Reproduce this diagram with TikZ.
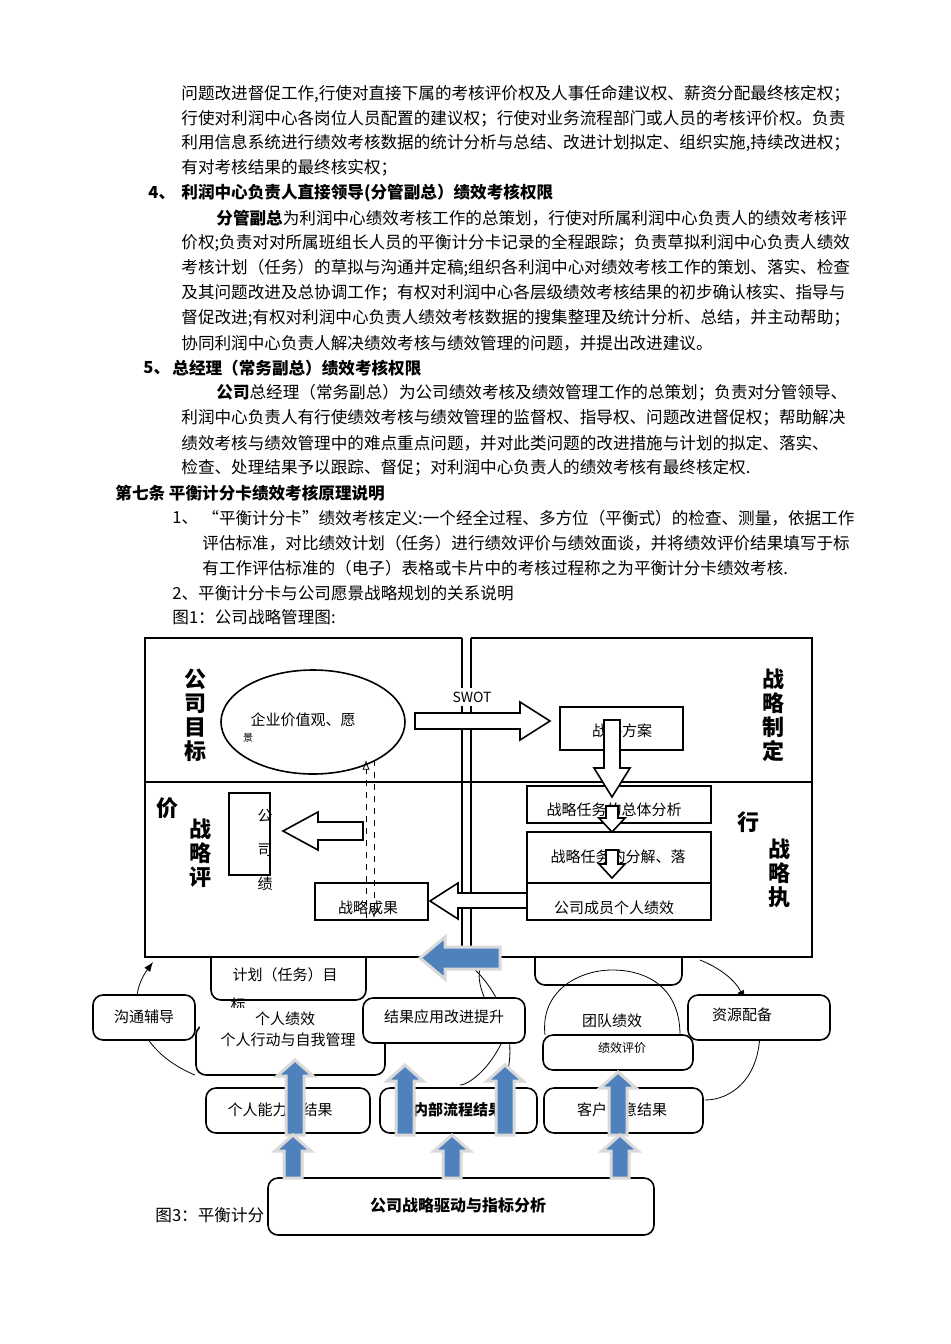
\documentclass[tikz,border=0pt]{standalone}
\usepackage{fontspec}
\setmainfont{Noto Sans CJK SC}
\usetikzlibrary{arrows.meta,fit}
\definecolor{bl}{HTML}{4F81BD}
\begin{document}
\begin{tikzpicture}[x=0.5pt,y=-0.5pt,
 t/.style={anchor=west,inner sep=0pt,font=\fontsize{8.3}{10}\selectfont},
 b/.style={t,font=\fontsize{8.3}{10}\selectfont\bfseries},
 lbl/.style={font=\fontsize{11}{12}\selectfont\bfseries,align=center,inner sep=0pt},
 bx/.style={draw,thick,inner sep=0pt},
 rb/.style={draw,thick,rounded corners=5pt,inner sep=0pt},
 bt/.style={font=\fontsize{7.5}{9}\selectfont,inner sep=0pt},
 hol/.style={draw,thick,fill=white},
 blu/.style={draw=gray!30,line width=1.5pt,fill=bl}]
\useasboundingbox (0,0) rectangle (950,1344);
\fill[white] (0,0) rectangle (950,1344);
% text
\node[t] (l1) at (181,94) {问题改进督促工作,行使对直接下属的考核评价权及人事任命建议权、薪资分配最终核定权；};
\node[t] (l2) at (181,119) {行使对利润中心各岗位人员配置的建议权；行使对业务流程部门或人员的考核评价权。负责};
\node[t] (l3) at (181,143) {利用信息系统进行绩效考核数据的统计分析与总结、改进计划拟定、组织实施,持续改进权；};
\node[t] (l4) at (181,168) {有对考核结果的最终核实权；};
\node[b] (h4n) at (148,193) {4、};
\node[b] (h4) at (181,193) {利润中心负责人直接领导(分管副总）绩效考核权限};
\node[t] (l5) at (216,218) {\textbf{分管副总}为利润中心绩效考核工作的总策划，行使对所属利润中心负责人的绩效考核评};
\node[t] (l6) at (181,243) {价权;负责对对所属班组长人员的平衡计分卡记录的全程跟踪；负责草拟利润中心负责人绩效};
\node[t] (l7) at (181,268) {考核计划（任务）的草拟与沟通并定稿;组织各利润中心对绩效考核工作的策划、落实、检查};
\node[t] (l8) at (181,293) {及其问题改进及总协调工作；有权对利润中心各层级绩效考核结果的初步确认核实、指导与};
\node[t] (l9) at (181,318) {督促改进;有权对利润中心负责人绩效考核数据的搜集整理及统计分析、总结，并主动帮助；};
\node[t] (l10) at (181,343) {协同利润中心负责人解决绩效考核与绩效管理的问题，并提出改进建议。};
\node[b] (h5n) at (143,368) {5、};
\node[b] (h5) at (172,368) {总经理（常务副总）绩效考核权限};
\node[t] (l11) at (216,393) {\textbf{公司}总经理（常务副总）为公司绩效考核及绩效管理工作的总策划；负责对分管领导、};
\node[t] (l12) at (181,418) {利润中心负责人有行使绩效考核与绩效管理的监督权、指导权、问题改进督促权；帮助解决};
\node[t] (l13) at (181,443) {绩效考核与绩效管理中的难点重点问题，并对此类问题的改进措施与计划的拟定、落实、};
\node[t] (l14) at (181,468) {检查、处理结果予以跟踪、督促；对利润中心负责人的绩效考核有最终核定权.};
\node[b] (h7) at (115,493) {第七条\ 平衡计分卡绩效考核原理说明};
\node[t] (l15n) at (172,518) {1、};
\node[t] (l15) at (202,518) {“平衡计分卡”绩效考核定义:一个经全过程、多方位（平衡式）的检查、测量，依据工作};
\node[t] (l16) at (202,543) {评估标准，对比绩效计划（任务）进行绩效评价与绩效面谈，并将绩效评价结果填写于标};
\node[t] (l17) at (202,568) {有工作评估标准的（电子）表格或卡片中的考核过程称之为平衡计分卡绩效考核.};
\node[t] (l18) at (172,593) {2、平衡计分卡与公司愿景战略规划的关系说明};
\node[t] (l19) at (172,617) {图1：公司战略管理图:};
% bottom cycle (behind)
\draw[-{Latex}] (195,1075) .. controls (135,1050) and (125,1000) .. (153,962);
\draw (455,955) .. controls (500,980) and (520,1040) .. (505,1080);
\draw (515,1000) .. controls (505,1060) and (470,1085) .. (460,1085);
\draw (490,1010) .. controls (470,970) and (480,960) .. (500,955);
\draw[-{Latex}] (700,960) .. controls (720,968) and (735,980) .. (745,1000);
\draw (760,1030) .. controls (760,1080) and (730,1100) .. (705,1100);
\node[rb,fit={(211,945) (366,1000)}] (jh) {};
\node[rb,fit={(535,945) (682,985)}] (jx) {};
\fill[white] (146,940) rectangle (811,956);
% frame
\draw[thick] (462,638) -- (145,638) -- (145,957) -- (462,957);
\draw[thick] (471,638) -- (812,638) -- (812,957) -- (471,957);
\draw[thick] (462,638) -- (462,957) (471,638) -- (471,957);
\draw[thick] (145,782) -- (812,782);
\node[lbl] (q1) at (195,715) {公\\司\\目\\标};
\node[lbl] (q2) at (773,715) {战\\略\\制\\定};
\node[lbl] (q3a) at (167,808) {价};
\node[lbl] (q3) at (200,853) {战\\略\\评};
\node[lbl] (q4a) at (748,822) {行};
\node[lbl] (q4) at (779,873) {战\\略\\执};
\node[fill=white,inner sep=2pt,font=\fontsize{7}{8}\selectfont] (sw) at (472,697) {SWOT};
% hollow arrows
\draw[hol] (415,713) -- (520,713) -- (520,702) -- (550,721) -- (520,740) -- (520,729) -- (415,729) -- cycle;
\node[bx,fit={(560,707) (683,750)}] (fa) {};
\node[bt] at (622,731) {战略方案};
\draw[thick,fill=white] (313,722) ellipse (92 and 52);
\node[bt] (ev) at (303,720) {企业价值观、愿};
\node[font=\fontsize{5}{6}\selectfont] (ev2) at (248,738) {景};
\node[bx,fit={(527,786) (711,823)}] (zf) {};
\node[bt] at (614,810) {战略任务的总体分析};
\node[bx,fit={(527,832) (711,883)}] (zj) {};
\node[bt] at (618,857) {战略任务的分解、落};
\node[bx,fit={(527,883) (711,920)}] (gc) {};
\node[bt] at (614,908) {公司成员个人绩效};
\draw[hol] (604,720) -- (620,720) -- (620,768) -- (630,768) -- (612,797) -- (594,768) -- (604,768) -- cycle;
\draw[hol] (606,806) -- (618,806) -- (618,818) -- (625,818) -- (612,832) -- (599,818) -- (606,818) -- cycle;
\draw[hol] (606,850) -- (618,850) -- (618,864) -- (625,864) -- (612,878) -- (599,864) -- (606,864) -- cycle;
\node[bx,fit={(315,883) (428,920)}] (cg) {};
\node[bt] at (368,908) {战略成果};
\draw[hol] (527,893) -- (458,893) -- (458,883) -- (430,901) -- (458,919) -- (458,908) -- (527,908) -- cycle;
\node[bx,fit={(229,793) (270,875)}] (gs) {};
\node[bt,align=center] at (265,850) {公\\[8pt]司\\[8pt]绩};
\draw[hol] (363,822) -- (318,822) -- (318,812) -- (283,831) -- (318,850) -- (318,840) -- (363,840) -- cycle;
\draw[dashed,-{Latex[open]}] (366,918) -- (366,760);
\draw[dashed,-{Latex[open]}] (374,760) -- (374,918);
% bottom boxes
\node[bt] at (285,975) {计划（任务）目};
\node[bt] at (238,1005) {标};
\node[rb,fill=white,fit={(93,995) (195,1040)}] (gt) {};
\node[bt] at (144,1017) {沟通辅导};
\node[rb,fit={(196,1025) (385,1075)}] (gr) {};
\fill[white] (200,1008) rectangle (375,1055);
\node[bt] at (285,1019) {个人绩效};
\node[bt] at (288,1040) {个人行动与自我管理};
\node[rb,fill=white,fit={(363,998) (525,1043)}] (jg) {};
\node[bt] at (444,1017) {结果应用改进提升};
\draw (545,1035) .. controls (540,990) and (580,970) .. (612,970) .. controls (650,970) and (680,990) .. (680,1035);
\node[rb,fit={(543,1035) (693,1070)}] (td) {};
\node[bt] at (612,1021) {团队绩效};
\node[bt,font=\fontsize{6}{7}\selectfont] at (622,1048) {绩效评价};
\node[rb,fill=white,fit={(688,995) (830,1040)}] (zy) {};
\node[bt] at (742,1015) {资源配备};
\node[rb,fit={(206,1088) (370,1133)}] (nl) {};
\node[bt] at (280,1110) {个人能力与结果};
\node[rb,fit={(380,1088) (537,1133)}] (lc) {};
\node[bt,font=\fontsize{7.5}{9}\selectfont\bfseries] at (458,1110) {内部流程结果};
\node[rb,fit={(544,1088) (703,1133)}] (kh) {};
\node[bt] at (622,1110) {客户满意结果};
\node[rb,fit={(268,1178) (654,1235)}] (zd) {};
\node[bt,font=\fontsize{8}{9}\selectfont\bfseries] at (458,1205) {公司战略驱动与指标分析};
\node[t] (f3) at (155,1215) {图3：平衡计分};
% blue arrows
\foreach \x/\a/\b in {295/1060/1135,405/1065/1135,505/1065/1135,618/1072/1135,293/1135/1178,452/1135/1178,620/1135/1178}{
 \draw[blu] (\x-9,\b) -- (\x-9,\a+16) -- (\x-18,\a+16) -- (\x,\a) -- (\x+18,\a+16) -- (\x+9,\a+16) -- (\x+9,\b) -- cycle;}
\draw[blu] (500,947) -- (445,947) -- (445,937) -- (420,958) -- (445,979) -- (445,969) -- (500,969) -- cycle;
\end{tikzpicture}
\end{document}
